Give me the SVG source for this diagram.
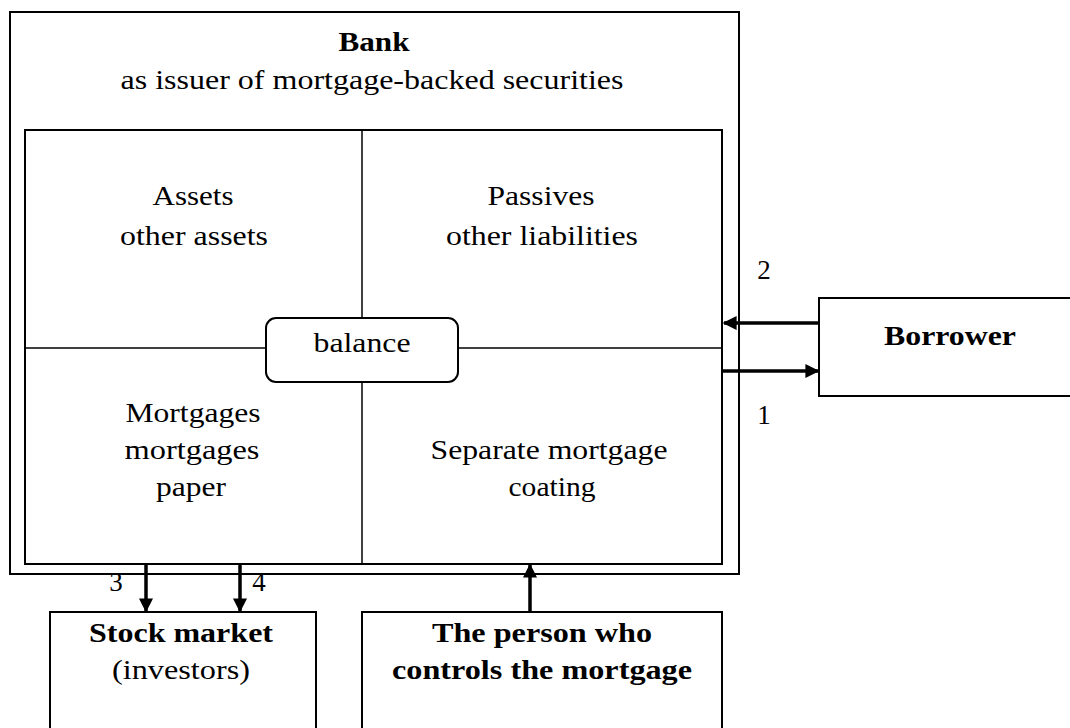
<svg xmlns="http://www.w3.org/2000/svg" width="1070" height="728" viewBox="0 0 1070 728">
<style>
.box{fill:#fff;stroke:#000;stroke-width:2}
.ln{fill:none;stroke:#000;stroke-width:1.5}
.t{font-family:"Liberation Serif","Times New Roman",serif;font-size:27px;fill:#000;text-anchor:middle}
.b{font-weight:bold}
.c{stroke:#000;stroke-width:3.5;fill:none}
</style>
<defs>
<marker id="ah" viewBox="0 0 10 10" refX="9" refY="5" markerWidth="4" markerHeight="4" orient="auto" markerUnits="strokeWidth">
<path d="M0,0 L10,5 L0,10 z" fill="#000"/>
</marker>
</defs>
<rect width="1070" height="728" fill="#fff"/>
<g id="bank">
<rect class="box" x="10" y="12" width="729" height="562"/>
<text class="t b" x="374" y="51" textLength="71" lengthAdjust="spacingAndGlyphs">Bank</text>
<text class="t" x="372" y="89" textLength="503" lengthAdjust="spacingAndGlyphs">as issuer of mortgage-backed securities</text>
<rect class="box" x="25" y="130" width="697" height="434"/>
<line class="ln" x1="362" y1="130" x2="362" y2="564"/>
<line class="ln" x1="25" y1="348" x2="722" y2="348"/>
</g>
<g id="assets">
<text class="t" x="193" y="205" textLength="81" lengthAdjust="spacingAndGlyphs">Assets</text>
<text class="t" x="194" y="245" textLength="148" lengthAdjust="spacingAndGlyphs">other assets</text>
</g>
<g id="passives">
<text class="t" x="541" y="205" textLength="107" lengthAdjust="spacingAndGlyphs">Passives</text>
<text class="t" x="542" y="245" textLength="192" lengthAdjust="spacingAndGlyphs">other liabilities</text>
</g>
<g id="mortgages">
<text class="t" x="193" y="422" textLength="135" lengthAdjust="spacingAndGlyphs">Mortgages</text>
<text class="t" x="192" y="459" textLength="135" lengthAdjust="spacingAndGlyphs">mortgages</text>
<text class="t" x="191" y="496" textLength="70" lengthAdjust="spacingAndGlyphs">paper</text>
</g>
<g id="separate">
<text class="t" x="549" y="459" textLength="237" lengthAdjust="spacingAndGlyphs">Separate mortgage</text>
<text class="t" x="552" y="496" textLength="87" lengthAdjust="spacingAndGlyphs">coating</text>
</g>
<g id="balance">
<rect class="box" x="266" y="318" width="192" height="64" rx="10" ry="10"/>
<text class="t" x="362" y="352" textLength="97" lengthAdjust="spacingAndGlyphs">balance</text>
</g>
<g id="borrower">
<rect class="box" x="819" y="298" width="260" height="98"/>
<text class="t b" x="950" y="345" textLength="132" lengthAdjust="spacingAndGlyphs">Borrower</text>
</g>
<g id="stock">
<rect class="box" x="50" y="612" width="266" height="130"/>
<text class="t b" x="181" y="642" textLength="184" lengthAdjust="spacingAndGlyphs">Stock market</text>
<text class="t" x="181" y="679" textLength="138" lengthAdjust="spacingAndGlyphs">(investors)</text>
</g>
<g id="person">
<rect class="box" x="362" y="612" width="360" height="130"/>
<text class="t b" x="542" y="642" textLength="220" lengthAdjust="spacingAndGlyphs">The person who</text>
<text class="t b" x="542" y="679" textLength="300" lengthAdjust="spacingAndGlyphs">controls the mortgage</text>
</g>
<g id="connectors">
<line class="c" x1="819" y1="323" x2="724" y2="323" marker-end="url(#ah)"/>
<line class="c" x1="722" y1="371" x2="818" y2="371" marker-end="url(#ah)"/>
<line class="c" x1="146" y1="564" x2="146" y2="611" marker-end="url(#ah)"/>
<line class="c" x1="240" y1="564" x2="240" y2="611" marker-end="url(#ah)"/>
<line class="c" x1="530" y1="612" x2="530" y2="565" marker-end="url(#ah)"/>
<text class="t" x="764" y="279">2</text>
<text class="t" x="764" y="424">1</text>
<text class="t" x="116" y="591">3</text>
<text class="t" x="259" y="591">4</text>
</g>
</svg>
